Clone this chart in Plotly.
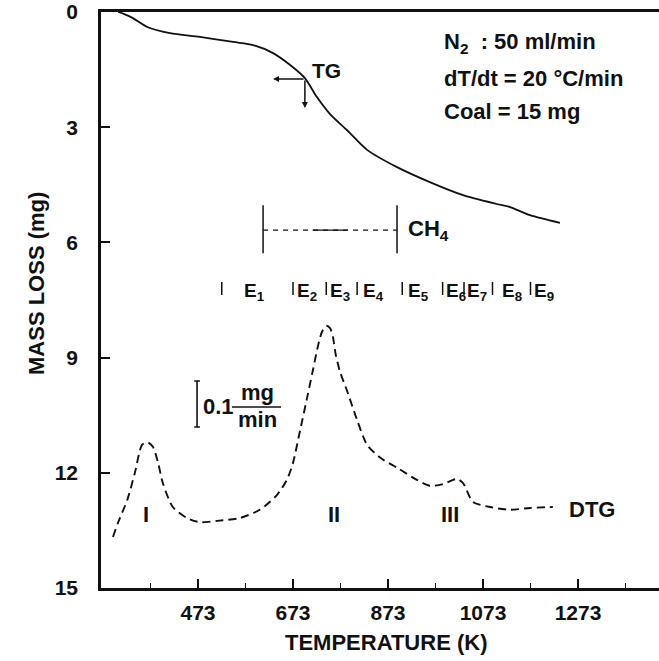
import plotly.graph_objects as go

# ---------------- data ----------------
tg_T = [305, 319, 336, 366, 414, 477, 547, 589, 631, 667, 698, 723, 751, 787,
        829, 892, 961, 1031, 1102, 1130, 1172, 1235]
tg_mass = [0, 0.06, 0.16, 0.39, 0.55, 0.65, 0.78, 0.86, 1.07, 1.38, 1.72, 2.21,
           2.66, 3.08, 3.59, 4.04, 4.43, 4.77, 5.0, 5.08, 5.29, 5.49]

dtg_T = [294, 305, 324, 340, 355, 366, 378, 389, 399, 420, 450, 477, 513, 561,
         603, 639, 660, 673, 688, 703, 715, 726, 734, 743, 751, 757, 763, 772,
         787, 808, 829, 857, 893, 934, 962, 989, 1018, 1031, 1052, 1088, 1130,
         1172, 1220]
dtg_rate = [0.111, 0.143, 0.191, 0.25, 0.311, 0.317, 0.307, 0.272, 0.228, 0.176,
            0.152, 0.143, 0.146, 0.152, 0.170, 0.202, 0.235, 0.272, 0.343, 0.415,
            0.474, 0.528, 0.557, 0.570, 0.565, 0.546, 0.507, 0.470, 0.428, 0.365,
            0.311, 0.283, 0.261, 0.235, 0.222, 0.226, 0.237, 0.228, 0.187, 0.176,
            0.170, 0.174, 0.176]

x_tickvals = [473, 673, 873, 1073, 1273]
x_minor = [373, 573, 773, 973, 1173, 1373]
y_tickvals = [0, 3, 6, 9, 12, 15]

e_bounds = [523, 673, 743, 808, 903, 988, 1033, 1093, 1173]
e_labels = ["E<sub>1</sub>", "E<sub>2</sub>", "E<sub>3</sub>", "E<sub>4</sub>",
            "E<sub>5</sub>", "E<sub>6</sub>", "E<sub>7</sub>", "E<sub>8</sub>",
            "E<sub>9</sub>"]
e_label_T = [566, 678, 746, 816, 910, 991, 1036, 1108, 1177]

ch4_range = [610, 892]
ch4_level = 5.68

peak_labels = ["I", "II", "III"]
peak_label_T = [364, 759, 1003]

tg_point = (698, 1.745)
scale_bar = 0.1  # mg/min
scale_T = 471

FONT = "Liberation Sans"
BLACK = "#111111"
FS = 22


def f(size=FS):
    return dict(size=size, family=FONT, color=BLACK, weight="bold")


fig = go.Figure()

fig.add_trace(go.Scatter(x=tg_T, y=tg_mass, mode="lines",
                         line=dict(color=BLACK, width=1.8, shape="spline", smoothing=0.8),
                         showlegend=False, hoverinfo="skip"))
fig.add_trace(go.Scatter(x=dtg_T, y=dtg_rate, mode="lines", yaxis="y2",
                         line=dict(color=BLACK, width=1.9, dash="8px,5px",
                                   shape="spline", smoothing=0.7),
                         showlegend=False, hoverinfo="skip"))

shapes = []
annotations = []

# E boundaries and labels
for b in e_bounds:
    shapes.append(dict(type="line", xref="x", yref="paper", x0=b, x1=b,
                       y0=(588 - 295) / 576, y1=(588 - 282) / 576,
                       line=dict(color=BLACK, width=1.5)))
for t, lab in zip(e_label_T, e_labels):
    annotations.append(dict(x=t, y=(588 - 292) / 576, xref="x", yref="paper",
                            text=lab, showarrow=False, xanchor="left", yanchor="middle",
                            font=f(19)))

# CH4 range
shapes.append(dict(type="line", xref="x", yref="y", x0=ch4_range[0], x1=ch4_range[1],
                   y0=ch4_level, y1=ch4_level, line=dict(color=BLACK, width=1.3, dash="5px,5px")))
shapes.append(dict(type="line", xref="x", yref="y",
                   x0=ch4_range[0] + 0.37 * (ch4_range[1] - ch4_range[0]),
                   x1=ch4_range[0] + 0.63 * (ch4_range[1] - ch4_range[0]),
                   y0=ch4_level, y1=ch4_level, line=dict(color=BLACK, width=1.3)))
for t in ch4_range:
    shapes.append(dict(type="line", xref="x", yref="y", x0=t, x1=t,
                       y0=ch4_level - 0.65, y1=ch4_level + 0.6,
                       line=dict(color=BLACK, width=1.5)))
annotations.append(dict(x=ch4_range[1], y=ch4_level, xref="x", yref="y",
                        text="CH<sub>4</sub>", showarrow=False, xanchor="left",
                        xshift=9, yanchor="middle", font=f()))

# TG arrows
annotations.append(dict(x=631, y=tg_point[1], xref="x", yref="y", ax=32, ay=0,
                        text="", showarrow=True, arrowhead=2, arrowsize=0.8,
                        arrowwidth=1.5, arrowcolor=BLACK))
annotations.append(dict(x=tg_point[0], y=2.5, xref="x", yref="y", ax=0, ay=-29,
                        text="", showarrow=True, arrowhead=2, arrowsize=0.8,
                        arrowwidth=1.5, arrowcolor=BLACK))
annotations.append(dict(x=tg_point[0], y=tg_point[1], xref="x", yref="y",
                        text="TG", showarrow=False, xanchor="left", yanchor="middle",
                        xshift=5, yshift=9, font=f(21)))

# conditions text
for txt, py in [("N<sub>2</sub>  : 50 ml/min", 43), ("dT/dt = 20 °C/min", 79),
                ("Coal = 15 mg", 111)]:
    annotations.append(dict(x=(442 - 101) / 558, y=(588 - py) / 576, xref="paper", yref="paper",
                            text=txt, showarrow=False, xanchor="left", yanchor="middle",
                            font=f()))

# scale bar
shapes.append(dict(type="line", xref="x", yref="y2", x0=scale_T, x1=scale_T,
                   y0=0.35, y1=0.35 + scale_bar, line=dict(color=BLACK, width=1.6)))
for yv in [0.35, 0.35 + scale_bar]:
    shapes.append(dict(type="line", xref="x", yref="y2", x0=scale_T - 6, x1=scale_T + 6,
                       y0=yv, y1=yv, line=dict(color=BLACK, width=1.5)))
annotations.append(dict(x=(201 - 101) / 558, y=(588 - 406) / 576, xref="paper", yref="paper",
                        text="0.1", showarrow=False, xanchor="left", yanchor="middle",
                        font=f()))
annotations.append(dict(x=(257 - 101) / 558, y=(588 - 393) / 576, xref="paper", yref="paper",
                        text="mg", showarrow=False, xanchor="center", yanchor="middle",
                        font=f()))
annotations.append(dict(x=(257 - 101) / 558, y=(588 - 419) / 576, xref="paper", yref="paper",
                        text="min", showarrow=False, xanchor="center", yanchor="middle",
                        font=f()))
shapes.append(dict(type="line", xref="paper", yref="paper", x0=(232 - 101) / 558,
                   x1=(281 - 101) / 558, y0=(588 - 407) / 576, y1=(588 - 407) / 576,
                   line=dict(color=BLACK, width=1.5)))

# peak labels
for t, lab in zip(peak_label_T, peak_labels):
    annotations.append(dict(x=t, y=(588 - 514) / 576, xref="x", yref="paper",
                            text=lab, showarrow=False, xanchor="center", yanchor="middle",
                            font=f()))
annotations.append(dict(x=dtg_T[-1], y=dtg_rate[-1], xref="x", yref="y2",
                        text="DTG", showarrow=False, xanchor="left", xshift=14, yanchor="middle",
                        yshift=-2, font=f()))

# axis titles
annotations.append(dict(x=(386 - 101) / 558, y=(588 - 642) / 576, xref="paper", yref="paper",
                        text="TEMPERATURE (K)", showarrow=False, xanchor="center", yanchor="middle",
                        font=f(22)))
annotations.append(dict(x=(36 - 101) / 558, y=(588 - 284) / 576, xref="paper", yref="paper",
                        text="MASS LOSS (mg)", showarrow=False, xanchor="center", yanchor="middle",
                        textangle=-90, font=f(22)))

fig.update_layout(
    width=659, height=661,
    margin=dict(l=101, r=0, t=12, b=73),
    paper_bgcolor="white", plot_bgcolor="white",
    font=dict(family=FONT, color=BLACK),
    shapes=shapes, annotations=annotations,
    xaxis=dict(range=[268.8, 1443.5], tickvals=x_tickvals,
               ticktext=[str(v) for v in x_tickvals],
               ticks="inside", ticklen=9, tickwidth=1.5, tickcolor=BLACK,
               minor=dict(tickvals=x_minor, ticks="inside",
                          ticklen=5, tickwidth=1.2, tickcolor=BLACK),
               showline=True, linewidth=2.5, linecolor=BLACK, mirror=True,
               showgrid=False, zeroline=False, ticklabelstandoff=4,
               tickfont=f(21)),
    yaxis=dict(range=[15, 0], tickvals=y_tickvals,
               ticks="inside", ticklen=9, tickwidth=1.5, tickcolor=BLACK,
               showline=True, linewidth=2.5, linecolor=BLACK, mirror=False,
               showgrid=False, zeroline=False, ticklabelstandoff=16,
               tickfont=f(21)),
    yaxis2=dict(range=[0, 576 / 460], overlaying="y", visible=False),
)

fig.write_html("out.html")
